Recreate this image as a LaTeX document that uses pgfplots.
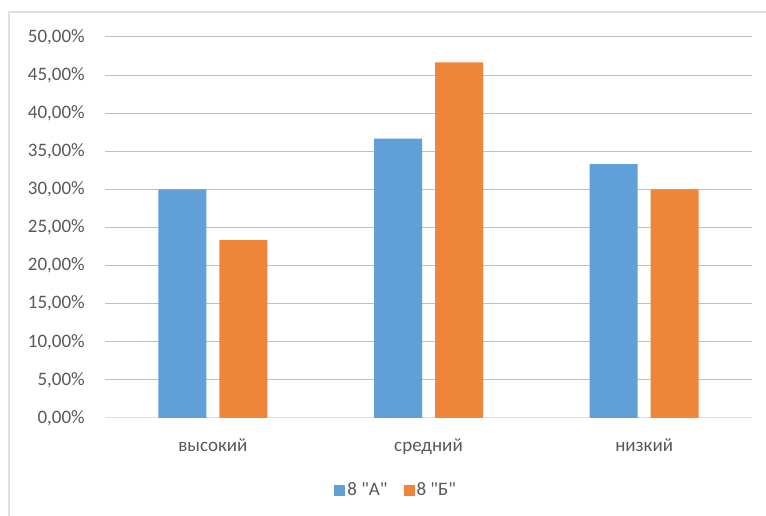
\documentclass[border=0pt]{standalone}
\usepackage{fontspec}
\setmainfont{Carlito}[Ligatures=TeXOff]
\usepackage{pgfplots}
\pgfplotsset{compat=1.18}
\definecolor{barA}{HTML}{5FA0D8}
\definecolor{barB}{HTML}{EE8539}
\definecolor{txt}{HTML}{595959}
\definecolor{grid}{HTML}{E0E0E0}
\begin{document}
\begin{tikzpicture}
\useasboundingbox (0pt,0pt) rectangle (766pt,516pt);
\fill[white] (0pt,0pt) rectangle (766pt,516pt);
% chart frame (top and left edges)
\draw[grid, line width=1.5pt] (9pt,0pt) -- (9pt,504pt) -- (766pt,504pt);
\begin{axis}[
  at={(105pt,98pt)}, anchor=south west,
  scale only axis, width=647pt, height=381pt,
  ybar=13pt, bar width=48pt,
  xmin=-0.5, xmax=2.5, ymin=0, ymax=50,
  xtick={0,1,2},
  xticklabels={высокий, средний, низкий},
  ytick={0,5,...,50},
  yticklabels={{0,00\%},{5,00\%},{10,00\%},{15,00\%},{20,00\%},{25,00\%},{30,00\%},{35,00\%},{40,00\%},{45,00\%},{50,00\%}},
  major tick length=0pt,
  xmajorgrids=false, ymajorgrids=true,
  grid style={grid, line width=1pt},
  axis x line*=bottom, axis y line*=left,
  x axis line style={grid, line width=1pt, -},
  y axis line style={draw=none},
  tick label style={font=\fontsize{19}{23}\selectfont, text=txt},
  xticklabel style={anchor=base, inner sep=0pt, yshift=-34pt},
  yticklabel style={anchor=east, inner sep=0pt, xshift=-20pt},
  legend columns=2,
  legend style={at={(0.45,-0.189)}, anchor=center, draw=none, fill=none,
    font=\fontsize{19}{23}\selectfont, text=txt,
    /tikz/every even column/.append style={column sep=14pt}},
  legend image code/.code={\fill[#1] (-4pt,-5.5pt) rectangle (7pt,5.5pt);},
]
\addplot[fill=barA, draw=none] coordinates {(0,30.00) (1,36.67) (2,33.33)};
\addplot[fill=barB, draw=none] coordinates {(0,23.33) (1,46.67) (2,30.00)};
\legend{8 "А", 8 "Б"}
\end{axis}
\end{tikzpicture}
\end{document}
